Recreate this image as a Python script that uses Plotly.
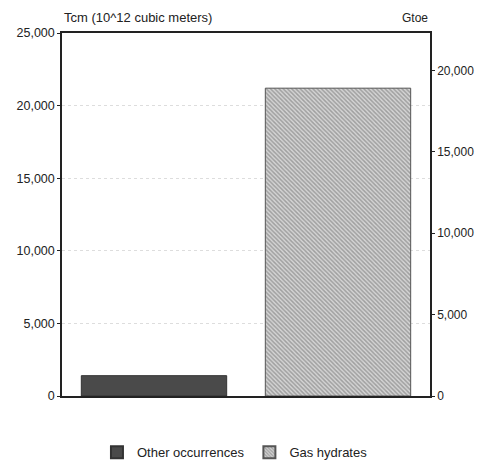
import plotly.graph_objects as go

categories = ["Other occurrences", "Gas hydrates"]
tcm_values = [1400, 21200]
left_ticks = [0, 5000, 10000, 15000, 20000, 25000]
right_ticks = [0, 5000, 10000, 15000, 20000]

font = dict(family="Liberation Sans, Arial, sans-serif", size=12, color="#222")

fig = go.Figure()
fig.add_trace(go.Bar(
    x=[categories[0]], y=[tcm_values[0]], name=categories[0],
    marker=dict(color="#4a4a4a", line=dict(color="#333", width=1)),
    width=0.79,
))
fig.add_trace(go.Bar(
    x=[categories[1]], y=[tcm_values[1]], name=categories[1],
    marker=dict(color="#c4c4c4", line=dict(color="#555", width=1),
                pattern=dict(shape="\\", size=3, solidity=0.5, fgcolor="#6a6a6a", bgcolor="#d4d4d4")),
    width=0.79,
))
# invisible trace to hold the right axis
fig.add_trace(go.Scatter(x=categories, y=[0, 0], yaxis="y2", mode="lines",
                         line=dict(width=0), showlegend=False, hoverinfo="skip"))

fig.update_layout(
    width=475, height=453,
    margin=dict(l=54, r=53, t=25, b=65, autoexpand=False),
    paper_bgcolor="white", plot_bgcolor="white",
    font=font,
    barmode="overlay",
    showlegend=True,
    legend=dict(orientation="h", x=0.47, xanchor="center", y=-0.155, yanchor="middle",
                font=dict(size=13), itemsizing="constant", traceorder="normal"),
    xaxis=dict(showticklabels=False, showline=True, linecolor="#222", linewidth=1.5,
               mirror=True, ticks="", showgrid=False),
    yaxis=dict(range=[0, 25000], tickvals=left_ticks, tickformat=",", ticks="outside",
               ticklen=3, tickcolor="#222", showline=True, linecolor="#222", linewidth=1.5,
               showgrid=True, gridcolor="#dddddd", griddash="dot", gridwidth=1, zeroline=False,
               tickfont=dict(size=12.5)),
    yaxis2=dict(range=[0, 22300], tickvals=right_ticks, tickformat=",", ticks="outside",
                ticklen=3, tickcolor="#222", overlaying="y", side="right", showline=True,
                linecolor="#222", linewidth=1.5, showgrid=False, zeroline=False,
                tickfont=dict(size=12)),
    annotations=[
        dict(text="Tcm (10^12 cubic meters)", x=0, xref="paper", xanchor="left",
             y=1, yref="paper", yshift=6, yanchor="bottom", showarrow=False, font=dict(size=13)),
        dict(text="Gtoe", x=1, xref="paper", xanchor="right",
             y=1, yref="paper", yshift=6, yanchor="bottom", showarrow=False, font=dict(size=12)),
    ],
)

fig.write_html("out.html")
